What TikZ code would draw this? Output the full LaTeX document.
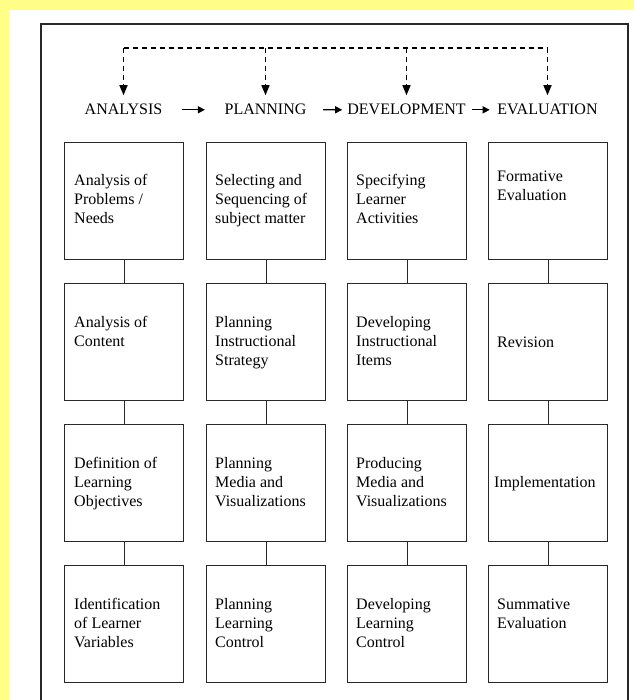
\documentclass[tikz,border=0pt]{standalone}
\usepackage{fontspec}
\setmainfont{Liberation Serif}
\usetikzlibrary{arrows.meta}
\definecolor{bgyellow}{RGB}{255,255,136}
\definecolor{ink}{RGB}{40,40,40}
\newcommand\boxtext[1]{\parbox[t]{115pt}{\raggedright #1}}
\begin{document}
\begin{tikzpicture}[x=1pt,y=-1pt,
  txt/.style={font=\fontsize{16}{19}\selectfont, inner sep=0pt, anchor=base west, text=black},
  hdr/.style={font=\fontsize{16}{19}\selectfont, inner sep=0pt, anchor=base, text=black},
  stagebox/.style={draw=ink, line width=1.4pt, minimum width=119pt, minimum height=117pt, inner sep=0pt, anchor=north west},
  link/.style={draw=ink, line width=1.4pt},
  hdrarrow/.style={draw=black, line width=1.3pt, -{Triangle[length=7pt,width=7pt]}},
  dashline/.style={draw=black, line width=1.4pt, dash pattern=on 5pt off 4pt},
  dasharrow/.style={dashline, -{Triangle[length=10pt,width=8pt]}}
]
\useasboundingbox (0,0) rectangle (634,700);
\fill[bgyellow] (0,0) rectangle (634,700);
\fill[white] (9,10) rectangle (634,700);
\draw[ink, line width=1.4pt] (41,700) -- (41,24) -- (628,24) -- (628,700);

% headers
\node[hdr] (hA) at (123.5,115) {ANALYSIS};
\node[hdr] (hP) at (265.5,115) {PLANNING};
\node[hdr] (hD) at (406.5,115) {DEVELOPMENT};
\node[hdr] (hE) at (547.5,115) {EVALUATION};

\draw[hdrarrow] ([xshift=19.5pt]hA.east) -- ([xshift=-19.5pt]hP.west);
\draw[hdrarrow] ([xshift=16.5pt]hP.east) -- ([xshift=-5pt]hD.west);
\draw[hdrarrow] ([xshift=6.5pt]hD.east) -- ([xshift=-7.5pt]hE.west);

% dashed feedback
\coordinate (d1) at (hA.north |- 0,48);
\coordinate (d2) at (hP.north |- 0,48);
\coordinate (d3) at (hD.north |- 0,48);
\coordinate (d4) at (hE.north |- 0,48);
\draw[dashline] (d1) -- (d4);
\draw[dasharrow, shorten >=9pt] (d1) -- (hA.north);
\draw[dasharrow, shorten >=9pt] (d2) -- (hP.north);
\draw[dasharrow, shorten >=9pt] (d3) -- (hD.north);
\draw[dasharrow, shorten >=9pt] (d4) -- (hE.north);

% boxes
\node[stagebox] (b11) at (64,142) {};
\node[stagebox] (b21) at (64,283) {};
\node[stagebox] (b31) at (64,424) {};
\node[stagebox] (b41) at (64,565) {};
\node[stagebox] (b12) at (206,142) {};
\node[stagebox] (b22) at (206,283) {};
\node[stagebox] (b32) at (206,424) {};
\node[stagebox] (b42) at (206,565) {};
\node[stagebox] (b13) at (347,142) {};
\node[stagebox] (b23) at (347,283) {};
\node[stagebox] (b33) at (347,424) {};
\node[stagebox] (b43) at (347,565) {};
\node[stagebox] (b14) at (488,142) {};
\node[stagebox] (b24) at (488,283) {};
\node[stagebox] (b34) at (488,424) {};
\node[stagebox] (b44) at (488,565) {};

\foreach \c in {1,2,3,4}{
  \draw[link] (b1\c.south) -- (b2\c.north);
  \draw[link] (b2\c.south) -- (b3\c.north);
  \draw[link] (b3\c.south) -- (b4\c.north);
}

% texts
\node[txt] (t11) at (74,186) {\boxtext{Analysis of\\Problems /\\Needs}};
\node[txt] (t21) at (74,327) {\boxtext{Analysis of\\Content}};
\node[txt] (t31) at (74,468) {\boxtext{Definition of\\Learning\\Objectives}};
\node[txt] (t41) at (74,609) {\boxtext{Identification\\of Learner\\Variables}};

\node[txt] (t12) at (215,186) {\boxtext{Selecting and\\Sequencing of\\subject matter}};
\node[txt] (t22) at (215,327) {\boxtext{Planning\\Instructional\\Strategy}};
\node[txt] (t32) at (215,468) {\boxtext{Planning\\Media and\\Visualizations}};
\node[txt] (t42) at (215,609) {\boxtext{Planning\\Learning\\Control}};

\node[txt] (t13) at (356,186) {\boxtext{Specifying\\Learner\\Activities}};
\node[txt] (t23) at (356,327) {\boxtext{Developing\\Instructional\\Items}};
\node[txt] (t33) at (356,468) {\boxtext{Producing\\Media and\\Visualizations}};
\node[txt] (t43) at (356,609) {\boxtext{Developing\\Learning\\Control}};

\node[txt] (t14) at (497,182) {\boxtext{Formative\\Evaluation}};
\node[txt] (t24) at (497,347) {\boxtext{Revision}};
\node[txt] (t34) at (494,487) {\boxtext{Implementation}};
\node[txt] (t44) at (497,609) {\boxtext{Summative\\Evaluation}};
\end{tikzpicture}
\end{document}
